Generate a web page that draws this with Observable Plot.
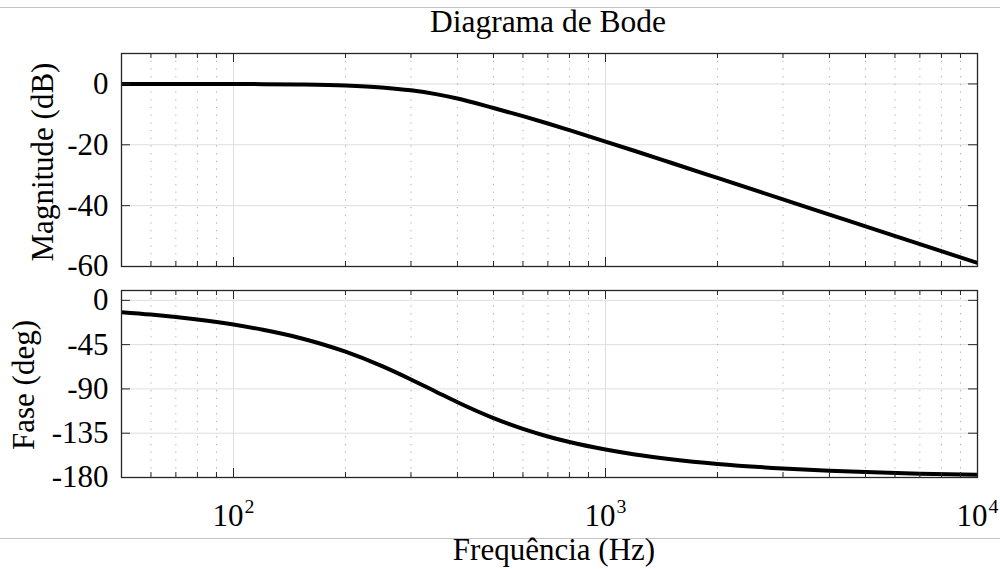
<!DOCTYPE html>
<html><head><meta charset="utf-8">
<script src="https://cdn.jsdelivr.net/npm/d3@7"></script>
<script src="https://cdn.jsdelivr.net/npm/@observablehq/plot@0.6"></script>
<style>
body{margin:0;background:#fff;}
#fig{position:relative;width:1000px;height:569px;overflow:hidden;font-family:"Liberation Serif","Times New Roman",serif;color:#000;background:#fff;}
.abs{position:absolute;white-space:nowrap;line-height:1;}
.hline{position:absolute;left:0;width:1000px;height:0;border-top:1px solid #c4c4c4;}
svg{display:block;}
</style></head><body><div id="fig"></div>
<script>
// ---- data ----
const freq = [50,60,70,80,100,120,150,200,250,300,350,400,500,600,700,800,1000,1200,1500,2000,3000,4000,5000,7000,10000];
const magDb = [0.00,0.00,-0.01,-0.01,-0.03,-0.07,-0.17,-0.50,-1.14,-2.10,-3.35,-4.80,-7.90,-10.60,-13.00,-15.20,-18.95,-22.05,-25.90,-30.89,-37.93,-42.93,-46.80,-52.65,-58.84];
const phaseDeg = [-12.1,-14.5,-17.0,-19.5,-24.6,-29.9,-38.0,-52.2,-66.6,-80.4,-92.8,-103.5,-119.6,-130.6,-138.3,-144.0,-151.6,-156.6,-161.4,-166.2,-170.8,-173.1,-174.5,-176.1,-177.3];
const xDomain = [50, 10000];
const xMajor = [100, 1000, 10000];
const xExp = ["2", "3", "4"];
const xGridMajor = [100, 1000];
const xMinor = [60,70,80,90,200,300,400,500,600,700,800,900,2000,3000,4000,5000,6000,7000,8000,9000];
const magTicks = [-60, -40, -20, 0];
const magDomain = [-60, 10];
const phaseTicks = [-180, -135, -90, -45, 0];
const phaseDomain = [-180, 10];
const titleText = "Diagrama de Bode";
const magLabel = "Magnitude (dB)";
const phaseLabel = "Fase (deg)";
const xLabel = "Frequência (Hz)";

const TICK_FONT = 31, LABEL_FONT = 31, TITLE_FONT = 31.5;
const fig = document.getElementById("fig");

function panel({yDomain, yTicks, yValues, top, height, mt, mb, showX}) {
  const W = 1000, ml = 121, mr = 23;
  const ph = height - mt - mb, pw = W - ml - mr;
  const rows = freq.map((f, i) => ({f, v: yValues[i]}));
  const ink = "#262626";
  const marks = [
    Plot.gridY(yTicks, {stroke: "#dedede", strokeOpacity: 1}),
    Plot.gridX(xMinor, {stroke: "#a8a8a8", strokeOpacity: 1, strokeDasharray: "1.2,6.5"}),
    Plot.gridX(xGridMajor, {stroke: "#dedede", strokeOpacity: 1}),
    Plot.line(rows, {x: "f", y: "v", stroke: "#000", strokeWidth: 4, curve: "monotone-x", clip: true}),
    Plot.tickX(xMajor, {x: d => d, stroke: ink, insetBottom: ph - 9}),
    Plot.tickX(xMajor, {x: d => d, stroke: ink, insetTop: ph - 9}),
    Plot.tickX(xMinor, {x: d => d, stroke: ink, insetBottom: ph - 5}),
    Plot.tickX(xMinor, {x: d => d, stroke: ink, insetTop: ph - 5}),
    Plot.tickY(yTicks, {y: d => d, stroke: ink, insetRight: pw - 9}),
    Plot.tickY(yTicks, {y: d => d, stroke: ink, insetLeft: pw - 9}),
    Plot.frame({stroke: ink, strokeWidth: 1.3}),
    Plot.axisY({ticks: yTicks, tickSize: 0, tickPadding: 13, tickFormat: d => String(d), fontSize: TICK_FONT, label: null})
  ];
  if (showX) {
    marks.push(Plot.axisX({ticks: xMajor, tickSize: 0, tickPadding: 26, fontSize: TICK_FONT, label: null,
      tickFormat: d => "10^" + xExp[xMajor.indexOf(d)]}));
  }
  const svg = Plot.plot({
    width: W, height,
    marginLeft: ml, marginRight: mr, marginTop: mt, marginBottom: mb,
    x: {type: "log", domain: xDomain, axis: showX ? undefined : null, label: null},
    y: {domain: yDomain, label: null},
    style: {fontFamily: '"Liberation Serif","Times New Roman",serif', fontSize: TICK_FONT + "px", color: "#000", background: "transparent", overflow: "visible"},
    marks
  });
  svg.style.position = "absolute";
  svg.style.left = "0px";
  svg.style.top = top + "px";
  if (showX) {
    d3.select(svg).selectAll('g[aria-label="x-axis tick label"] text').each(function() {
      const t = d3.select(this);
      const parts = t.text().split("^");
      t.text(parts[0]);
      t.append("tspan").attr("dx", "1").attr("dy", "-0.65em").attr("font-size", "0.64em").text(parts[1]);
    });
  }
  fig.appendChild(svg);
}

panel({yDomain: magDomain, yTicks: magTicks, yValues: magDb, top: 0, height: 280, mt: 53, mb: 14, showX: false});
panel({yDomain: phaseDomain, yTicks: phaseTicks, yValues: phaseDeg, top: 280, height: 289, mt: 10, mb: 92, showX: true});

// decorations
function hline(y) { const d = document.createElement("div"); d.className = "hline"; d.style.top = y + "px"; fig.appendChild(d); }
hline(7); hline(538);

function text(str, size, cx, baseline) {
  const d = document.createElement("div");
  d.className = "abs"; d.textContent = str;
  d.style.fontSize = size + "px";
  d.style.left = cx + "px";
  d.style.top = (baseline - 0.8375 * size) + "px";
  d.style.transform = "translateX(-50%)";
  fig.appendChild(d);
}
function vtext(str, size, baselineX, cy) {
  const d = document.createElement("div");
  d.className = "abs"; d.textContent = str;
  d.style.fontSize = size + "px";
  d.style.left = (baselineX - 0.3375 * size) + "px";
  d.style.top = cy + "px";
  d.style.transform = "translate(-50%,-50%) rotate(-90deg)";
  fig.appendChild(d);
}
text(titleText, TITLE_FONT, 548, 32);
text(xLabel, LABEL_FONT, 554, 560);
vtext(magLabel, LABEL_FONT, 52, 162);
vtext(phaseLabel, LABEL_FONT, 33, 385);
</script></body></html>
